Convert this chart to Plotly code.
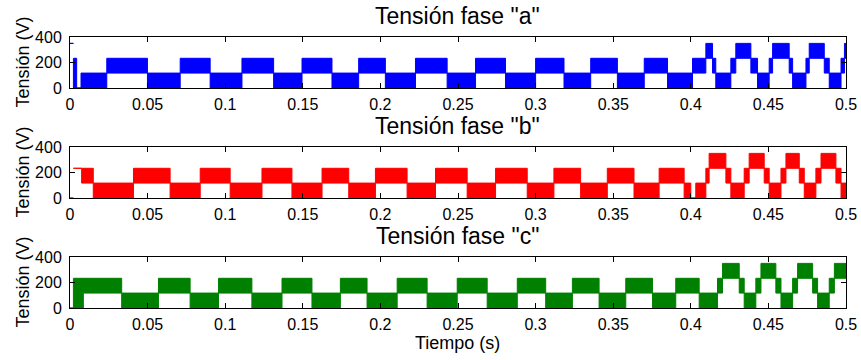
import plotly.graph_objects as go

# Voltage levels of the inverter output (V)
V0, V1, V2, V3 = 0, 117, 233, 350

# Phase "a": switching-band boundaries (s) and band limits (V)
edges_a = [0, 0.0022, 0.0043, 0.0071, 0.0237, 0.0499, 0.0710, 0.0903, 0.1108, 0.1312,
           0.1495, 0.1688, 0.1860, 0.2032, 0.2226, 0.2430, 0.2613, 0.2806, 0.3000, 0.3183,
           0.3355, 0.3527, 0.3700, 0.3850, 0.4011, 0.4097, 0.4140, 0.4161, 0.4258, 0.4290,
           0.4387, 0.4430, 0.4505, 0.4527, 0.4634, 0.4656, 0.4742, 0.4763, 0.4860, 0.4892,
           0.4968, 0.4990, 0.5]
lo_a = [V3, V0, V0, V0, V1, V0, V1, V0, V1, V0, V1, V0, V1, V0, V1, V0, V1, V0, V1, V0,
        V1, V0, V1, V0, V1, V2, V1, V0, V1, V2, V1, V0, V1, V2, V1, V0, V1, V2, V1, V0,
        V1, V2]
hi_a = [V3, V2, V0, V1, V2, V1, V2, V1, V2, V1, V2, V1, V2, V1, V2, V1, V2, V1, V2, V1,
        V2, V1, V2, V1, V2, V3, V2, V1, V2, V3, V2, V1, V2, V3, V2, V1, V2, V3, V2, V1,
        V2, V3]

# Phase "b"
edges_b = [0, 0.0022, 0.0075, 0.0150, 0.0409, 0.0645, 0.0839, 0.1032, 0.1237, 0.1430,
           0.1624, 0.1796, 0.1968, 0.2172, 0.2355, 0.2559, 0.2742, 0.2946, 0.3118, 0.3290,
           0.3462, 0.3634, 0.3796, 0.3957, 0.4000, 0.4032, 0.4097, 0.4118, 0.4226, 0.4258,
           0.4344, 0.4376, 0.4473, 0.4505, 0.4581, 0.4613, 0.4699, 0.4731, 0.4806, 0.4839,
           0.4935, 0.4968, 0.5]
lo_b = [V0, V2, V1, V0, V1, V0, V1, V0, V1, V0, V1, V0, V1, V0, V1, V0, V1, V0, V1, V0,
        V1, V0, V1, V0, V0, V0, V1, V2, V1, V0, V1, V2, V1, V0, V1, V2, V1, V0, V1, V2,
        V1, V0]
hi_b = [V0, V2, V2, V1, V2, V1, V2, V1, V2, V1, V2, V1, V2, V1, V2, V1, V2, V1, V2, V1,
        V2, V1, V2, V1, V0, V1, V2, V3, V2, V1, V2, V3, V2, V1, V2, V3, V2, V1, V2, V3,
        V2, V1]

# Phase "c"
edges_c = [0, 0.0022, 0.0086, 0.0333, 0.0570, 0.0774, 0.0957, 0.1172, 0.1366, 0.1559,
           0.1742, 0.1914, 0.2108, 0.2301, 0.2495, 0.2688, 0.2882, 0.3065, 0.3237, 0.3409,
           0.3581, 0.3753, 0.3903, 0.4054, 0.4172, 0.4204, 0.4312, 0.4344, 0.4419, 0.4452,
           0.4548, 0.4581, 0.4656, 0.4688, 0.4785, 0.4817, 0.4892, 0.4925, 0.5]
lo_c = [V0, V0, V1, V0, V1, V0, V1, V0, V1, V0, V1, V0, V1, V0, V1, V0, V1, V0, V1, V0,
        V1, V0, V1, V0, V1, V2, V1, V0, V1, V2, V1, V0, V1, V2, V1, V0, V1, V2]
hi_c = [V0, V2, V2, V1, V2, V1, V2, V1, V2, V1, V2, V1, V2, V1, V2, V1, V2, V1, V2, V1,
        V2, V1, V2, V1, V2, V3, V2, V1, V2, V3, V2, V1, V2, V3, V2, V1, V2, V3]

x_ticks = [0, 0.05, 0.1, 0.15, 0.2, 0.25, 0.3, 0.35, 0.4, 0.45, 0.5]
x_tick_text = ["0", "0.05", "0.1", "0.15", "0.2", "0.25", "0.3", "0.35", "0.4", "0.45", "0.5"]
y_ticks = [0, 200, 400]
y_tick_text = ["0", "200", "400"]

titles = ['Tensión fase "a"', 'Tensión fase "b"', 'Tensión fase "c"']
colors = ["rgb(0,0,255)", "rgb(255,0,0)", "rgb(0,128,0)"]
phases = [(edges_a, lo_a, hi_a), (edges_b, lo_b, hi_b), (edges_c, lo_c, hi_c)]

W, H = 861, 360
FONT = "Liberation Sans, Arial, Helvetica, sans-serif"
x_left, x_right = 70, 846
panel_px = [(37, 88), (147, 198), (257, 308)]  # top / bottom of each axes box


def band_polygons(edges, lo, hi):
    """Each switching interval becomes a closed rectangle spanning its band."""
    xs, ys = [], []
    for i in range(len(lo)):
        t0, t1 = edges[i], edges[i + 1]
        xs += [t0, t0, t1, t1, t0, None]
        ys += [lo[i], hi[i], hi[i], lo[i], lo[i], None]
    return xs, ys


fig = go.Figure()
annotations = []
for k, ((edges, lo, hi), col, title, (top, bot)) in enumerate(zip(phases, colors, titles, panel_px)):
    suffix = "" if k == 0 else str(k + 1)
    xs, ys = band_polygons(edges, lo, hi)
    fig.add_trace(go.Scatter(
        x=xs, y=ys, mode="lines", fill="toself", fillcolor=col,
        line=dict(color=col, width=1), hoverinfo="skip", showlegend=False,
        xaxis="x" + suffix, yaxis="y" + suffix,
    ))
    axis_common = dict(
        showline=True, linecolor="black", linewidth=1, mirror="allticks",
        ticks="inside", ticklen=5, tickcolor="black", showgrid=False, zeroline=False,
        automargin=False,
        tickfont=dict(family=FONT, size=16, color="black"),
    )
    fig.layout["xaxis" + suffix] = dict(
        axis_common, domain=[x_left / W, x_right / W], range=[0, 0.5],
        tickvals=x_ticks, ticktext=x_tick_text, anchor="y" + suffix,
        ticklabelstandoff=2,
    )
    fig.layout["yaxis" + suffix] = dict(
        axis_common, domain=[1 - bot / H, 1 - top / H], range=[0, 400],
        tickvals=y_ticks, ticktext=y_tick_text, anchor="x" + suffix,
        ticklabelstandoff=4,
    )
    annotations.append(dict(
        text=title, x=(x_left + x_right) / 2 / W, y=1 - (top - 21) / H,
        xref="paper", yref="paper", xanchor="center", yanchor="middle",
        showarrow=False, font=dict(family=FONT, size=23, color="black"),
    ))
    annotations.append(dict(
        text="Tensión (V)", x=22 / W, y=1 - (top + bot) / 2 / H,
        xref="paper", yref="paper", xanchor="center", yanchor="middle",
        textangle=-90, showarrow=False, font=dict(family=FONT, size=18, color="black"),
    ))

annotations.append(dict(
    text="Tiempo (s)", x=(x_left + x_right) / 2 / W, y=1 - 343 / H,
    xref="paper", yref="paper", xanchor="center", yanchor="middle",
    showarrow=False, font=dict(family=FONT, size=18, color="black"),
))

fig.update_layout(
    width=W, height=H, margin=dict(l=0, r=0, t=0, b=0),
    paper_bgcolor="white", plot_bgcolor="white",
    annotations=annotations,
)

fig.write_html("out.html")
